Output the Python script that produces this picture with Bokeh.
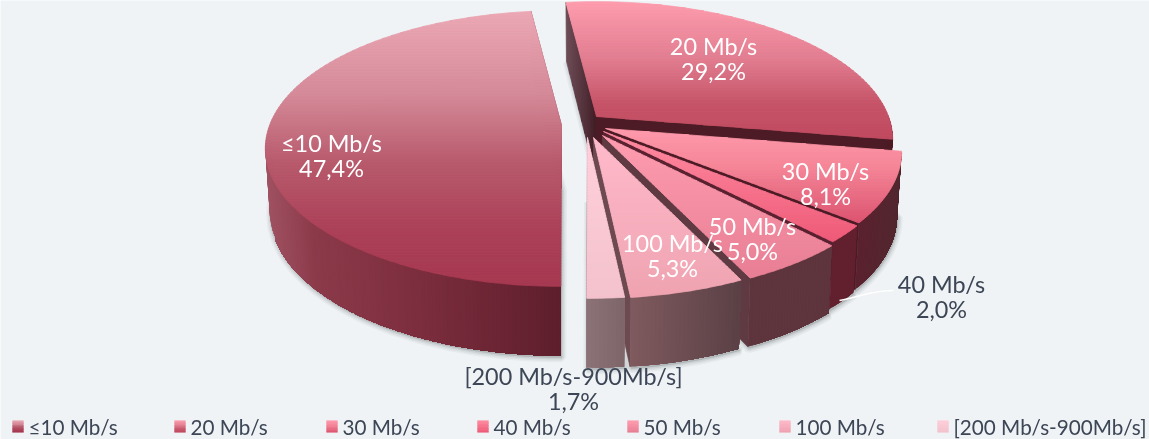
import math
from bokeh.plotting import figure
from bokeh.models import Range1d, ColumnDataSource
from bokeh.core.properties import value
from bokeh.embed import file_html
from bokeh.resources import INLINE

# ---- data ----
categories = ["20 Mb/s", "30 Mb/s", "40 Mb/s", "50 Mb/s", "100 Mb/s", "[200 Mb/s-900Mb/s]", "≤10 Mb/s"]
shares = [29.2, 8.1, 2.0, 5.0, 5.3, 1.7, 47.4]
share_labels = ["29,2%", "8,1%", "2,0%", "5,0%", "5,3%", "1,7%", "47,4%"]
legend_order = ["≤10 Mb/s", "20 Mb/s", "30 Mb/s", "40 Mb/s", "50 Mb/s", "100 Mb/s", "[200 Mb/s-900Mb/s]"]

# ---- layout / projection ----
W, H = 1149, 439
BG = "#eff3f5"
FONT = "Lato"
START = -7.0
R, B, K = 292.0, 134.0, 0.167
THICK, CX, CY = 63.0, 0.985, 1.04
apex = {
    "20 Mb/s": (596, 116), "30 Mb/s": (605, 128), "40 Mb/s": (603, 131), "50 Mb/s": (602, 135),
    "100 Mb/s": (593, 137), "[200 Mb/s-900Mb/s]": (587, 137), "≤10 Mb/s": (561, 125),
}
top_stops = {
    "≤10 Mb/s": [(0, "#eca8b4"), (.3, "#d58a99"), (.55, "#b85a6c"), (.8, "#ab4058"), (1, "#a63850")],
    "20 Mb/s": [(0, "#fe9dae"), (.4, "#e37f92"), (.75, "#c65468"), (1, "#c04a60")],
    "30 Mb/s": [(0, "#fe9aac"), (.4, "#f58698"), (1, "#dc5470")],
    "40 Mb/s": [(0, "#ff8ca2"), (1, "#ee5a78")],
    "50 Mb/s": [(0, "#ff9db0"), (1, "#e87e94")],
    "100 Mb/s": [(0, "#ffbacb"), (1, "#efa3b1")],
    "[200 Mb/s-900Mb/s]": [(0, "#ffcfdb"), (1, "#f3c2cc")],
}
wall_stops = {
    "≤10 Mb/s": [(0, "#a05262"), (.16, "#8b3a4a"), (.47, "#7e2f3f"), (.8, "#6a2433"), (1, "#5e1e2c")],
    "20 Mb/s": [(0, "#4d1b25"), (1, "#4d1b25")],
    "30 Mb/s": [(0, "#5a212e"), (1, "#52282f")],
    "40 Mb/s": [(0, "#62202e"), (1, "#62202e")],
    "50 Mb/s": [(0, "#5e343d"), (1, "#5e343d")],
    "100 Mb/s": [(0, "#7e5a5e"), (1, "#5a4045")],
    "[200 Mb/s-900Mb/s]": [(0, "#8b7276"), (1, "#7d6468")],
}
end_wall = {
    "20 Mb/s": "#4d1b25", "30 Mb/s": "#4d1b25", "40 Mb/s": "#5a2230", "50 Mb/s": "#5f3a42",
    "100 Mb/s": "#6c4a50", "[200 Mb/s-900Mb/s]": "#7d6468", "≤10 Mb/s": "#8a3548",
}
label_pos = {
    "≤10 Mb/s": (331, 142, "#ffffff"), "20 Mb/s": (713, 45, "#ffffff"), "30 Mb/s": (825, 170, "#ffffff"),
    "50 Mb/s": (752, 225, "#ffffff"), "100 Mb/s": (672, 242, "#ffffff"),
    "40 Mb/s": (941, 283, "#3d4656"), "[200 Mb/s-900Mb/s]": (573, 375, "#3d4656"),
}
legend_x = {"≤10 Mb/s": 12, "20 Mb/s": 174, "30 Mb/s": 326, "40 Mb/s": 477, "50 Mb/s": 627, "100 Mb/s": 779,
            "[200 Mb/s-900Mb/s]": 937}


def hx(c):
    return tuple(int(c[i:i + 2], 16) for i in (1, 3, 5))


def ramp(stops, t):
    t = max(0.0, min(1.0, t))
    for (a, ca), (b, cb) in zip(stops, stops[1:]):
        if t <= b:
            f = (t - a) / (b - a) if b > a else 0
            x, y = hx(ca), hx(cb)
            return "#%02x%02x%02x" % tuple(round(x[i] + (y[i] - x[i]) * f) for i in range(3))
    return stops[-1][1]


def rim(a, deg):
    th = math.radians(deg)
    s = 1 / (1 + K * math.cos(th))
    return a[0] + R * math.sin(th) * s, a[1] - B * math.cos(th) * s


def low(a, p):
    return a[0] + (p[0] - a[0]) * CX, a[1] + (p[1] - a[1]) * CY + THICK


def clip_y(poly, y0, y1):
    def clip(pts, inside, cross):
        out = []
        for i, q in enumerate(pts):
            r = pts[i - 1]
            if inside(q):
                if not inside(r):
                    out.append(cross(r, q))
                out.append(q)
            elif inside(r):
                out.append(cross(r, q))
        return out

    def cut(y):
        return lambda r, q: (r[0] + (q[0] - r[0]) * (y - r[1]) / (q[1] - r[1]), y)

    return clip(clip(poly, lambda q: q[1] >= y0, cut(y0)), lambda q: q[1] <= y1, cut(y1))


px, py, pc, pl = [], [], [], []


def add(poly, col, lw=0.8):
    px.append([q[0] for q in poly])
    py.append([q[1] for q in poly])
    pc.append(col)
    pl.append(lw)


def vgrad(poly, stops, step=3.0):
    ys = [q[1] for q in poly]
    y0, y1 = min(ys), max(ys)
    y = y0
    while y < y1:
        band = clip_y(poly, y, min(y + step, y1) + 0.4)
        if len(band) >= 3:
            add(band, ramp(stops, (y + step / 2 - y0) / (y1 - y0)))
        y += step


p = figure(width=W, height=H, x_range=Range1d(0, W), y_range=Range1d(H, 0), toolbar_location=None,
           output_backend="svg", background_fill_color=BG, border_fill_color=BG, outline_line_color=None,
           min_border=0, min_border_left=0, min_border_right=0, min_border_top=0, min_border_bottom=0)
p.axis.visible = False
p.grid.visible = False
p.styles = {"position": "fixed", "left": "0px", "top": "0px"}

total = sum(shares)
angle = START
sectors = {}
for c, v in zip(categories, shares):
    sectors[c] = (angle, angle + v / total * 360)
    angle += v / total * 360

# soft shadow of the pie's lower faces
sx, sy = [], []
for c in categories:
    a = apex[c]
    t0, t1 = sectors[c]
    n = max(4, int(t1 - t0))
    pts = [low(a, a)] + [low(a, rim(a, t0 + (t1 - t0) * i / n)) for i in range(n + 1)]
    sx.append([q[0] + 1 for q in pts])
    sy.append([q[1] + 2 for q in pts])
for lw, al in ((9, .05), (6, .07), (3, .10)):
    p.patches(sx, sy, fill_color="#4a4f55", fill_alpha=al, line_color="#4a4f55", line_alpha=al, line_width=lw)

# slices, back to front
for c in [categories[-1]] + categories[:-1]:
    a = apex[c]
    t0, t1 = sectors[c]
    stops, wall = top_stops[c], wall_stops[c]
    r0, r1 = rim(a, t0), rim(a, t1)
    # start wall
    if c == "20 Mb/s":
        steps = 10
        for i in range(steps):
            f0, f1 = i / steps, (i + 1.1) / steps
            e0 = (r0[0] + (a[0] - r0[0]) * f0, r0[1] + (a[1] - r0[1]) * f0)
            e1 = (r0[0] + (a[0] - r0[0]) * f1, r0[1] + (a[1] - r0[1]) * f1)
            add([e0, e1, low(a, e1), low(a, e0)],
                ramp([(0, "#6b4a54"), (.6, "#52303a"), (1, "#3f1820")], f0))
    # end wall
    add([a, r1, low(a, r1), low(a, a)], end_wall[c])
    # outer wall: overlapping strips, only the part that faces the viewer
    n = max(6, int((t1 - t0) * 1.5))
    angs = [t0 + (t1 - t0) * i / n for i in range(n + 1)]
    seen = [(rim(a, t), t) for t in angs if math.cos(math.radians(t)) < 0.02]
    xmin, xmax = min(q[0] for q, _ in seen), max(q[0] for q, _ in seen)
    ordered = sorted(seen, key=lambda e: e[0][0])  # paint left to right
    for i in range(len(ordered) - 1):
        g = (ordered[i][0][0] - xmin) / (xmax - xmin) if xmax > xmin else 0
        q0 = ordered[i][0]
        q1 = ordered[-1][0]  # every strip reaches the wall's right end; later strips paint over it
        strip = [e[0] for e in ordered[i:]]
        add(strip + [low(a, q) for q in reversed(strip)], ramp(wall, g), 0)
    # top face
    m = max(6, int(t1 - t0))
    top = [a] + [rim(a, t0 + (t1 - t0) * i / m) for i in range(m + 1)]
    vgrad(top, stops)

src = ColumnDataSource(dict(xs=px, ys=py, color=pc, lw=pl))
p.patches("xs", "ys", source=src, fill_color="color", line_color="color", line_width="lw")

# connector of the 40 Mb/s label
p.bezier(x0=[839], y0=[300], x1=[893], y1=[290], cx0=[860], cy0=[296], cx1=[872], cy1=[290],
         line_color="#ffffff", line_width=1.5)

# labels
share_of = dict(zip(categories, share_labels))
for c, (x, y, col) in label_pos.items():
    p.text([x], [y], text=[c], text_align="center", text_baseline="middle", text_color=col,
           text_font=value(FONT), text_font_size="23.4px")
    p.text([x], [y + 25.5], text=[share_of[c]], text_align="center", text_baseline="middle", text_color=col,
           text_font=value(FONT), text_font_size="23.4px")

# legend
lx, ly, lc = [], [], []
px, py, pc, pl = lx, ly, lc, []
for c in legend_order:
    x = legend_x[c]
    vgrad([(x, 420), (x + 11, 420), (x + 11, 432), (x, 432)], top_stops[c], step=1.5)
    p.text([x + 16], [426.5], text=[c], text_align="left", text_baseline="middle", text_color="#3d4656",
           text_font=value(FONT), text_font_size="20.7px")
p.patches(lx, ly, fill_color=lc, line_color=lc, line_width=0.2)

open("out.html", "w").write(file_html(p, INLINE))
